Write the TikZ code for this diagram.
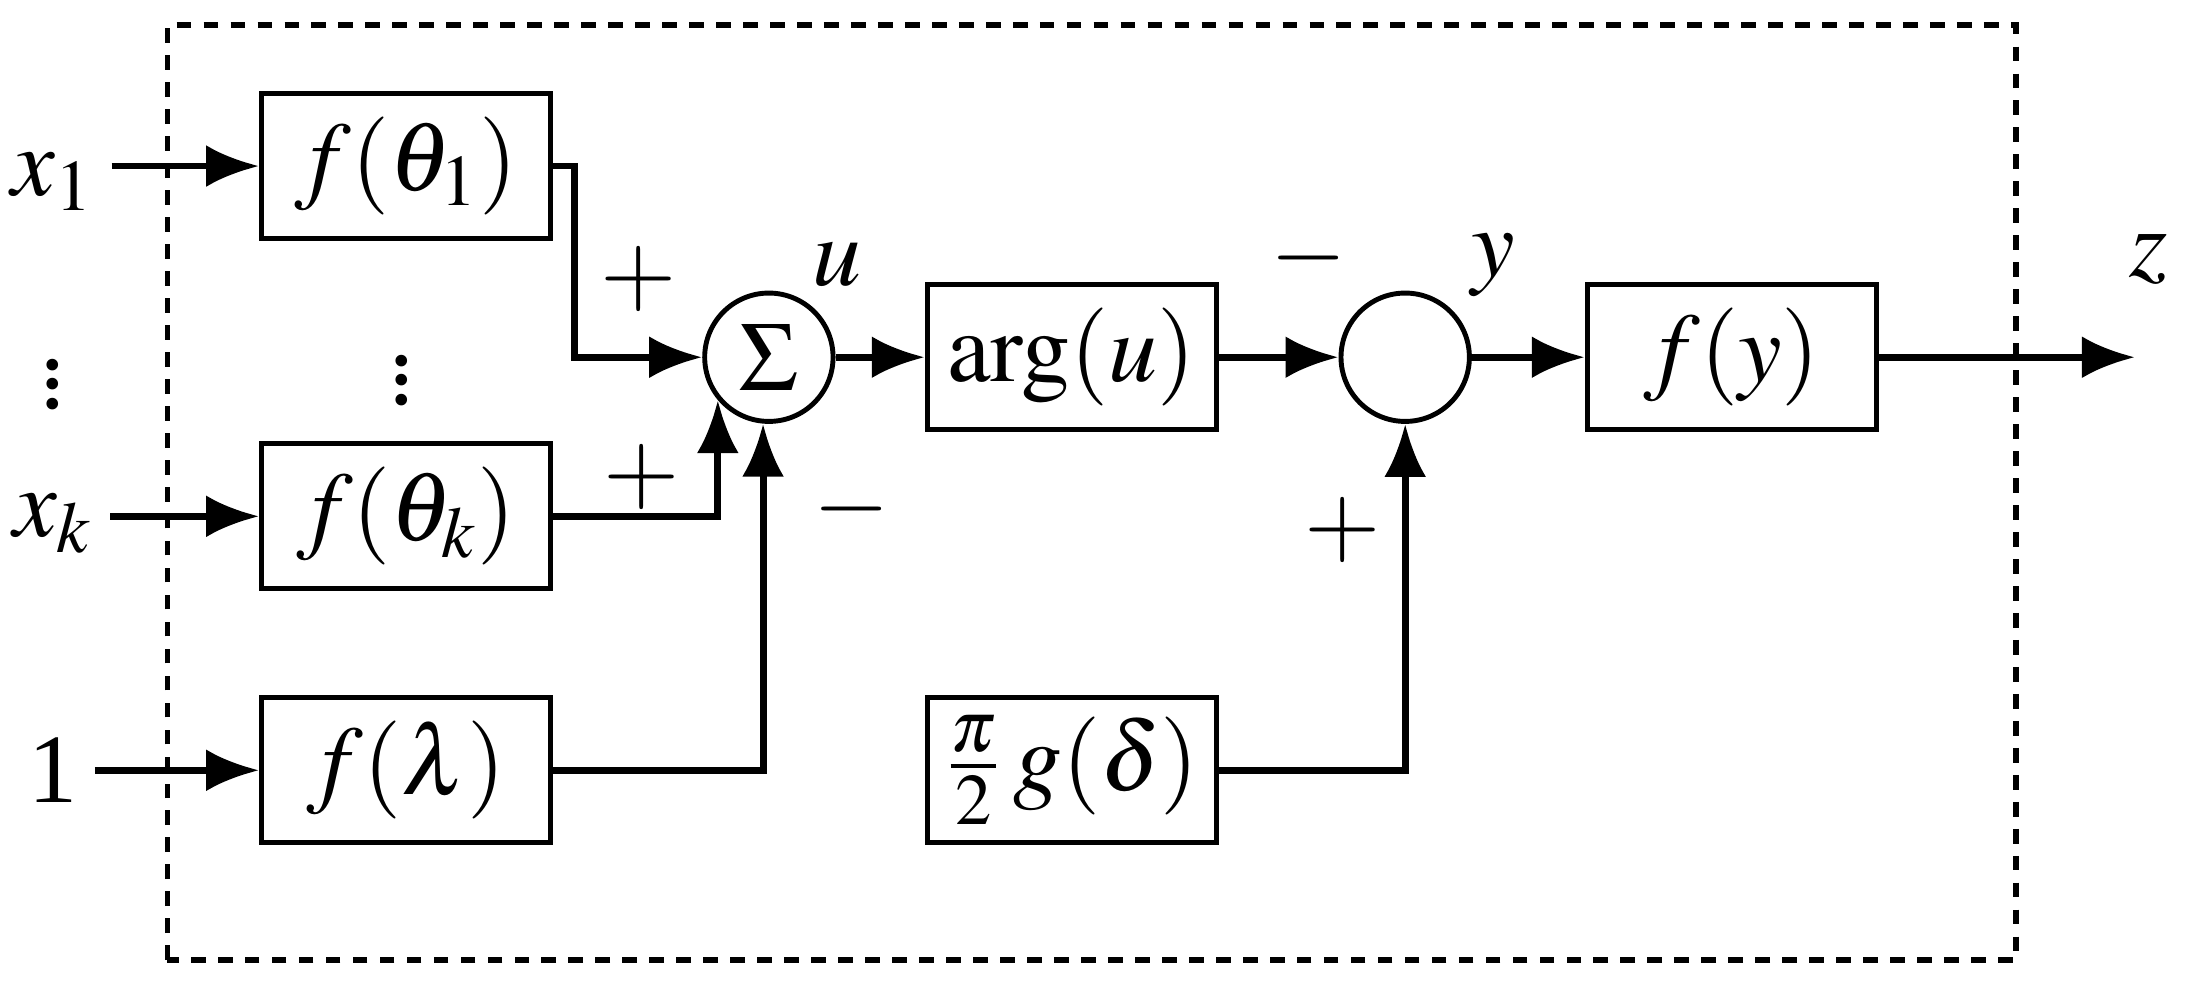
\documentclass[tikz,border=0pt]{standalone}
\usepackage{mathptmx}
\usepackage[no-math]{fontspec}
\setmainfont{Liberation Serif}
\usetikzlibrary{arrows.meta, positioning}

\begin{document}
\begin{tikzpicture}[font=\fontsize{20}{24}\selectfont]
% Styles for blocks and connectors
\tikzset{block/.style={draw, line width=1pt, minimum width=2.07cm, minimum height=1.04cm, inner sep=0pt},
	sum/.style={draw, circle, line width=1pt, minimum size=0.92cm, inner sep=0pt},
	sig/.style={line width=1.4pt, -{Latex[length=0.38cm, width=0.3cm]}}}
\useasboundingbox (0,0) rectangle (15.68,7.06);
% Frame
\draw[line width=1.2pt, dash pattern=on 3pt off 2.5pt] (1.2,0.18) rectangle (14.45,6.88);

% Blocks
\node[block] at (2.91,5.87) (F1) {$f(\theta_1)$};
\node[block] at (2.91,3.36) (Fk) {$f(\theta_k)$};
\node[block] at (2.91,1.54) (Fl) {$f(\lambda)$};
\node[sum]   at (5.51,4.50) (S1) {$\Sigma$};
\node[block] at (7.68,4.50) (Arg) {$\arg(u)$};
\node[sum]   at (10.07,4.50) (S2) {};
\node[block] at (12.41,4.50) (Fy) {$f(y)$};
\node[block] at (7.68,1.54) (G) {$\frac{\pi}{2}\,g(\delta)$};

% Inputs and output
\node at (0.38,5.76) (X1) {$x_1$};
\node at (0.38,3.31) (Xk) {$x_k$};
\node at (0.38,1.54) (One) {1};
\node[inner sep=0pt] at (0.38,4.41) (D1) {$\vdots$};
\node[inner sep=0pt] at (2.88,4.44) (D2) {$\vdots$};
\coordinate (Out) at (15.3,4.50);
\node at (15.4,5.2) (Z) {$z$};

% Connections
\draw[sig] (X1.east |- F1.west) -- (F1.west);
\draw[sig] (Xk.east |- Fk.west) -- (Fk.west);
\draw[sig] (One.east) -- (Fl.west);
\draw[sig] (F1.east) -| (4.12,4.50) -- (S1.west);
\draw[sig] (Fk.east) -| (S1.-140);
\draw[sig] (Fl.east) -| (S1.-95);
\draw[sig] (S1.east) -- (Arg.west);
\draw[sig] (Arg.east) -- (S2.west);
\draw[sig] (S2.east) -- (Fy.west);
\draw[sig] (G.east) -| (S2.south);
\draw[sig] (Fy.east) -- (Out);

% Signs and signal names
\node at (4.58,5.06) {$+$};
\node at (4.6,3.64) {$+$};
\node at (6.1,3.41) {$-$};
\node at (6.0,5.16) {$u$};
\node at (9.38,5.21) {$-$};
\node at (10.7,5.16) {$y$};
\node at (9.62,3.26) {$+$};
\end{tikzpicture}
\end{document}
